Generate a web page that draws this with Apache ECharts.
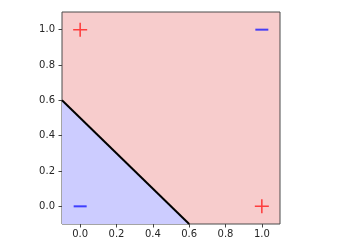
<!DOCTYPE html>
<html><head><meta charset="utf-8">
<script src="https://cdn.jsdelivr.net/npm/echarts@6/dist/echarts.min.js"></script>
<style>html,body{margin:0;padding:0;background:#fff}#c{width:338px;height:248px}</style>
</head><body><div id="c"></div>
<script>
// Axis ticks
const xTicks = [0.0, 0.2, 0.4, 0.6, 0.8, 1.0];
const yTicks = [0.0, 0.2, 0.4, 0.6, 0.8, 1.0];
// Decision boundary x + y = 0.5, clipped to plot range
const boundaryX = [-0.1, 0.6];
const boundaryY = [0.6, -0.1];
// Positive class points (red +)
const posX = [0, 1];
const posY = [1, 0];
// Negative class points (blue −)
const negX = [0, 1];
const negY = [0, 1];

const chart = echarts.init(document.getElementById('c'), null, {renderer: 'canvas'});
const font = {fontFamily: 'DejaVu Sans', fontSize: 10, color: '#262626'};
chart.setOption({
  animation: false,
  grid: {left: 62, top: 12, width: 218, height: 212, show: true,
         backgroundColor: '#f7cccc', borderColor: '#4a4a4a', borderWidth: 1},
  xAxis: {type: 'value', min: -0.1, max: 1.1, position: 'bottom',
    axisLine: {show: false, onZero: false}, splitLine: {show: false},
    axisTick: {show: true, length: 3.5, lineStyle: {color: '#444'}, customValues: xTicks},
    axisLabel: Object.assign({margin: 5, customValues: xTicks, formatter: v => v.toFixed(1)}, font)},
  yAxis: {type: 'value', min: -0.1, max: 1.1, position: 'left',
    axisLine: {show: false, onZero: false}, splitLine: {show: false},
    axisTick: {show: true, length: 3.5, lineStyle: {color: '#444'}, customValues: yTicks},
    axisLabel: Object.assign({margin: 7, customValues: yTicks, formatter: v => v.toFixed(1)}, font)},
  series: [
    {type: 'line', data: boundaryX.map((x, i) => [x, boundaryY[i]]), symbol: 'none',
     lineStyle: {color: '#000', width: 2},
     areaStyle: {color: '#ccccff', opacity: 1, origin: 'start'}, z: 2},
    {type: 'scatter', data: posX.map((x, i) => [x, posY[i]]),
     symbol: 'path://M4.45,0h1.1v10h-1.1zM0,4.45h10v1.1h-10z', symbolSize: [14, 14],
     itemStyle: {color: '#ff1a1a'}, z: 3},
    {type: 'scatter', data: negX.map((x, i) => [x, negY[i]]),
     symbol: 'path://M0,0h10v1h-10z', symbolSize: [13, 2],
     itemStyle: {color: '#1a1aff'}, z: 3}
  ]
});
</script></body></html>
